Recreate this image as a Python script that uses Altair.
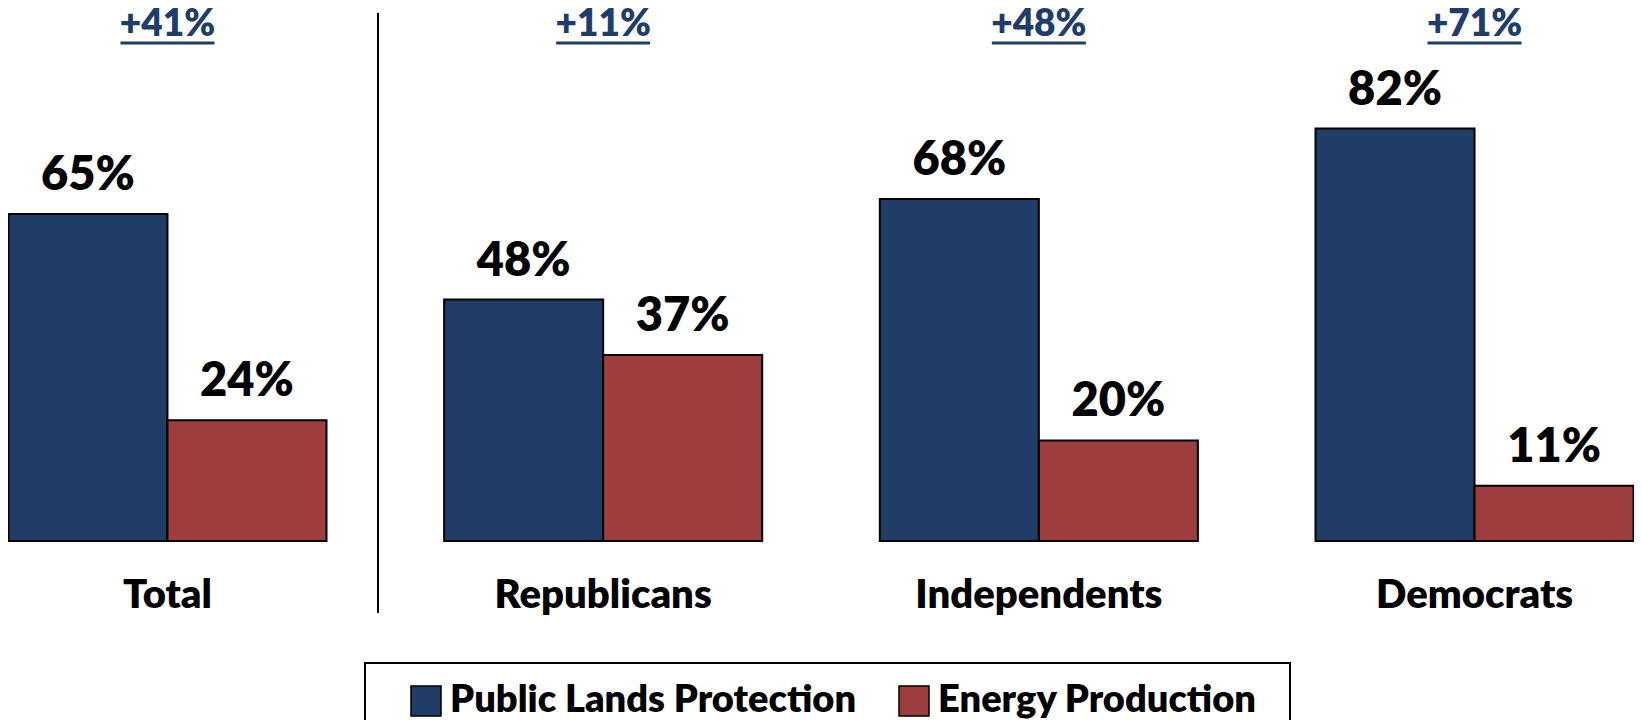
import altair as alt
import pandas as pd

categories = ["Total", "Republicans", "Independents", "Democrats"]
series = ["Public Lands Protection", "Energy Production"]
public_lands = [65, 48, 68, 82]
energy = [24, 37, 20, 11]
colors = ["#1F3D66", "#9E3D3D"]
diff_color = "#1F3D6B"

rows = []
for c, p, e in zip(categories, public_lands, energy):
    rows.append({"cat": c, "series": series[0], "value": p, "label": f"{p}%"})
    rows.append({"cat": c, "series": series[1], "value": e, "label": f"{e}%"})
df = pd.DataFrame(rows)
diff_df = pd.DataFrame({"cat": categories,
                        "diff": [f"+{p - e}%" for p, e in zip(public_lands, energy)]})
one = pd.DataFrame({"k": [0]})

FONT = "Lato"
WEIGHT = 800

x_enc = alt.X("cat:N", sort=categories, axis=None,
              scale=alt.Scale(paddingInner=0.27, paddingOuter=0.001))
xoff = alt.XOffset("series:N", sort=series,
                   scale=alt.Scale(paddingInner=0, paddingOuter=0))
y_enc = alt.Y("value:Q", axis=None,
              scale=alt.Scale(domain=[0, 100], range=[533, 30], nice=False, zero=True))

color_enc = alt.Color(
    "series:N", sort=series,
    scale=alt.Scale(domain=series, range=colors),
    legend=alt.Legend(
        orient="none", legendX=399, legendY=674, direction="horizontal",
        title=None, symbolType="square", symbolSize=900,
        symbolStrokeColor="black", symbolStrokeWidth=1.5, symbolOpacity=1,
        labelFont=FONT, labelFontSize=38, labelFontWeight=WEIGHT,
        labelColor="black", labelOffset=5, columnPadding=38, labelLimit=0,
        padding=0, columns=2,
    ),
)

bars = alt.Chart(df).mark_bar(stroke="black", strokeWidth=2, opacity=1).encode(
    x=x_enc, xOffset=xoff, y=y_enc, color=color_enc
)

value_labels = alt.Chart(df).mark_text(
    font=FONT, fontSize=47, fontWeight=WEIGHT, color="black",
    align="center", baseline="alphabetic", dy=-24
).encode(x=x_enc, xOffset=xoff, y=y_enc, text="label:N")

cat_labels = alt.Chart(diff_df).mark_text(
    font=FONT, fontSize=40, fontWeight=WEIGHT, color="black",
    align="center", baseline="alphabetic"
).encode(x=x_enc, y=alt.value(600), text="cat:N")

diff_labels = alt.Chart(diff_df).mark_text(
    font=FONT, fontSize=37, fontWeight=WEIGHT, color=diff_color,
    align="center", baseline="alphabetic"
).encode(x=x_enc, y=alt.value(28), text="diff:N")

underlines = alt.Chart(diff_df).mark_rule(
    color=diff_color, strokeWidth=3, xOffset=-47, x2Offset=47
).encode(x=x_enc, x2=alt.X2("cat"), y=alt.value(35))

separator = alt.Chart(one).mark_rule(color="black", strokeWidth=2).encode(
    x=alt.value(370), y=alt.value(5), y2=alt.value(605)
)

legend_box = alt.Chart(one).mark_rect(
    fillOpacity=0, stroke="black", strokeWidth=2
).encode(x=alt.value(357), x2=alt.value(1282), y=alt.value(655), y2=alt.value(740))

chart = alt.layer(
    bars, value_labels, cat_labels, diff_labels, underlines, separator, legend_box
).properties(
    width=1626, height=712, padding=0,
    autosize=alt.AutoSizeParams(type="none"),
).configure_view(stroke=None)

chart.save("out.html", embed_options={"renderer": "svg", "actions": False})
